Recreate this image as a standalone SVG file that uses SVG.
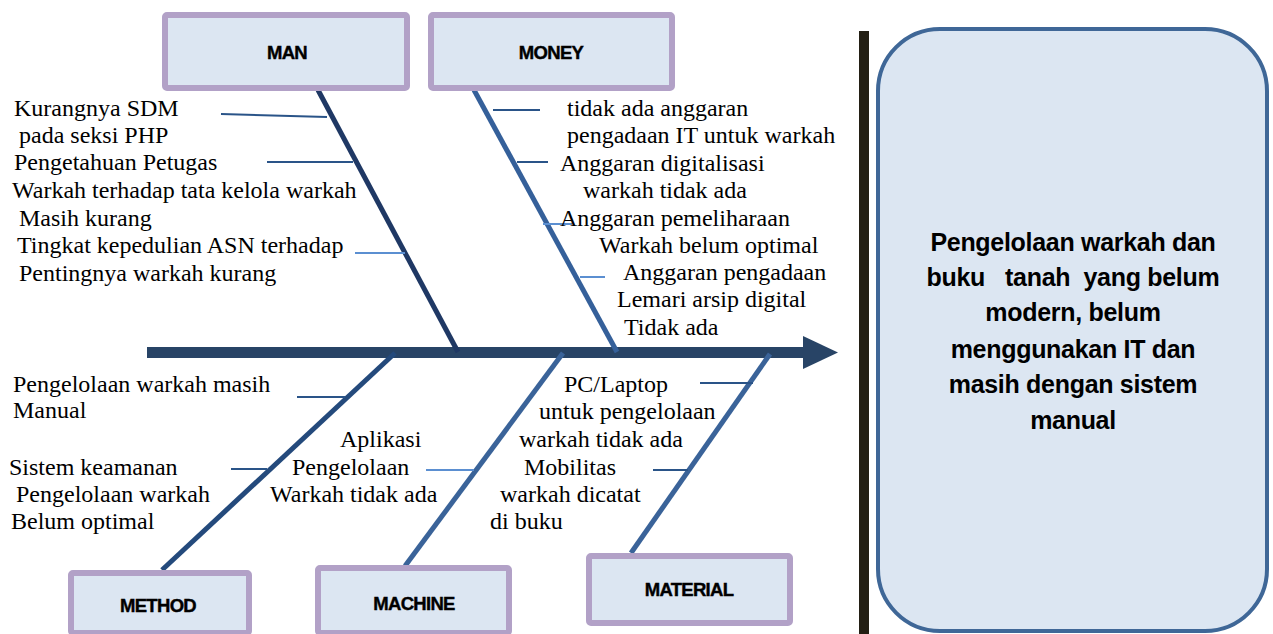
<svg xmlns="http://www.w3.org/2000/svg" width="1273" height="634" viewBox="0 0 1273 634">
  <style>
    .box { fill: #dce6f2; stroke: #b2a1c7; stroke-width: 6; }
    .lbl { font-family: "Liberation Sans", Arial, sans-serif; font-weight: bold; font-size: 18.5px; letter-spacing: -0.7px; text-anchor: middle; fill: #000; stroke: #000; stroke-width: 0.4; }
    .cause { font-family: "Liberation Serif", "Times New Roman", serif; font-size: 24px; fill: #000; white-space: pre; }
    .effect { font-family: "Liberation Sans", Arial, sans-serif; font-weight: bold; font-size: 25px; text-anchor: middle; fill: #000; white-space: pre; letter-spacing: -0.3px; }
    .bone { fill: none; stroke-width: 5; stroke-linecap: butt; }
    .tick { fill: none; stroke-width: 2; }
    .dark { stroke: #2a5488; }
    .light { stroke: #5b8fd1; }
  </style>

  <rect width="1273" height="634" fill="#ffffff"/>

  <!-- spine, bones and sub-cause ticks -->
  <g id="connectors">
    <line x1="147" y1="352.5" x2="806" y2="352.5" stroke="#284466" stroke-width="11"/>
    <polygon points="803,336 838,352.5 803,369" fill="#284466"/>

    <line class="bone" x1="318" y1="90" x2="458" y2="352" stroke="#1f3864"/>
    <line class="bone" x1="474" y1="90" x2="617" y2="352" stroke="#35609a"/>
    <line class="bone" x1="395" y1="353" x2="162" y2="570" stroke="#244a7c"/>
    <line class="bone" x1="563" y1="353" x2="405" y2="566" stroke="#3a6399"/>
    <line class="bone" x1="770" y1="354" x2="631" y2="553" stroke="#3a6399"/>

    <line class="tick dark" x1="221" y1="114" x2="327" y2="117"/>
    <line class="tick dark" x1="267" y1="162" x2="353" y2="162"/>
    <line class="tick light" x1="355" y1="253" x2="405" y2="253"/>

    <line class="tick dark" x1="493" y1="110" x2="540" y2="110"/>
    <line class="tick dark" x1="517" y1="162" x2="548" y2="162"/>
    <line class="tick light" x1="543" y1="224" x2="572" y2="224"/>
    <line class="tick light" x1="580" y1="277" x2="605" y2="277"/>

    <line class="tick dark" x1="297" y1="397" x2="345" y2="397"/>
    <line class="tick dark" x1="231" y1="469" x2="267" y2="469"/>

    <line class="tick light" x1="426" y1="470" x2="474" y2="470"/>

    <line class="tick dark" x1="700" y1="383" x2="753" y2="383"/>
    <line class="tick dark" x1="653" y1="470" x2="688" y2="470"/>
  </g>

  <!-- category boxes -->
  <g id="man">
    <rect class="box" x="165" y="15" width="242" height="73" rx="2"/>
    <text class="lbl" x="287" y="59">MAN</text>
  </g>
  <g id="money">
    <rect class="box" x="431" y="15" width="241" height="73" rx="2"/>
    <text class="lbl" x="551" y="59">MONEY</text>
  </g>
  <g id="method">
    <rect class="box" x="71" y="573" width="178" height="60" rx="2"/>
    <text class="lbl" x="158" y="612">METHOD</text>
  </g>
  <g id="machine">
    <rect class="box" x="318" y="568" width="191" height="65" rx="2"/>
    <text class="lbl" x="414" y="610">MACHINE</text>
  </g>
  <g id="material">
    <rect class="box" x="589" y="556" width="201" height="67" rx="2"/>
    <text class="lbl" x="689" y="596">MATERIAL</text>
  </g>

  <!-- sub-cause texts -->
  <g id="man-causes">
    <text class="cause" x="14" y="116">Kurangnya SDM</text>
    <text class="cause" x="19" y="143">pada seksi PHP</text>
    <text class="cause" x="14" y="170">Pengetahuan Petugas</text>
    <text class="cause" x="12" y="198">Warkah terhadap tata kelola warkah</text>
    <text class="cause" x="19" y="226">Masih kurang</text>
    <text class="cause" x="17" y="253">Tingkat kepedulian ASN terhadap</text>
    <text class="cause" x="19" y="281">Pentingnya warkah kurang</text>
  </g>
  <g id="money-causes">
    <text class="cause" x="567" y="116">tidak ada anggaran</text>
    <text class="cause" x="567" y="143">pengadaan IT untuk warkah</text>
    <text class="cause" x="560" y="171">Anggaran digitalisasi</text>
    <text class="cause" x="583" y="198">warkah tidak ada</text>
    <text class="cause" x="560" y="226">Anggaran pemeliharaan</text>
    <text class="cause" x="599" y="253">Warkah belum optimal</text>
    <text class="cause" x="623" y="280">Anggaran pengadaan</text>
    <text class="cause" x="617" y="307">Lemari arsip digital</text>
    <text class="cause" x="624" y="335">Tidak ada</text>
  </g>
  <g id="method-causes">
    <text class="cause" x="13" y="392">Pengelolaan warkah masih</text>
    <text class="cause" x="13" y="418">Manual</text>
    <text class="cause" x="9" y="475">Sistem keamanan</text>
    <text class="cause" x="16" y="502">Pengelolaan warkah</text>
    <text class="cause" x="11" y="529">Belum optimal</text>
  </g>
  <g id="machine-causes">
    <text class="cause" x="340" y="447">Aplikasi</text>
    <text class="cause" x="292" y="475">Pengelolaan</text>
    <text class="cause" x="270" y="502">Warkah tidak ada</text>
  </g>
  <g id="material-causes">
    <text class="cause" x="564" y="392">PC/Laptop</text>
    <text class="cause" x="539" y="419">untuk pengelolaan</text>
    <text class="cause" x="519" y="447">warkah tidak ada</text>
    <text class="cause" x="524" y="475">Mobilitas</text>
    <text class="cause" x="500" y="502">warkah dicatat</text>
    <text class="cause" x="490" y="529">di buku</text>
  </g>

  <!-- divider and effect box -->
  <rect id="divider" x="859" y="31" width="10" height="603" fill="#231f14"/>
  <g id="effect">
    <rect x="878" y="29" width="389" height="602" rx="62" fill="#dce6f2" stroke="#3f6797" stroke-width="4"/>
    <text class="effect" x="1073" y="251">Pengelolaan warkah dan</text>
    <text class="effect" x="1073" y="286">buku   tanah  yang belum</text>
    <text class="effect" x="1073" y="321">modern, belum</text>
    <text class="effect" x="1073" y="358">menggunakan IT dan</text>
    <text class="effect" x="1073" y="393">masih dengan sistem</text>
    <text class="effect" x="1073" y="429">manual</text>
  </g>
</svg>
